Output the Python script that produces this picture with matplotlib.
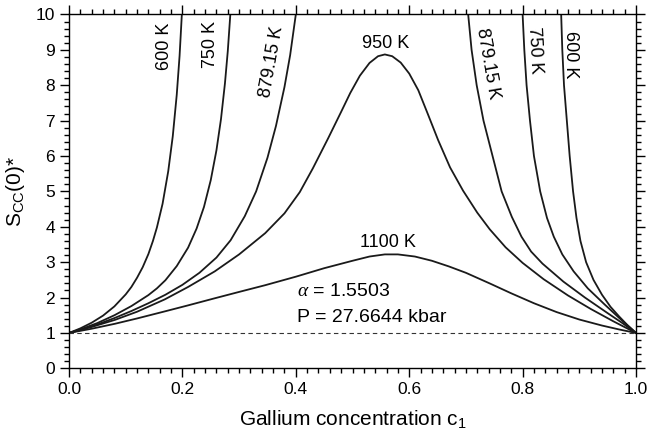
# S_cc(0)* vs gallium concentration
import numpy as np
import matplotlib
matplotlib.use('Agg')
from matplotlib import pyplot as plt
from matplotlib.ticker import MultipleLocator

plt.rcParams['font.family'] = ['Liberation Sans', 'DejaVu Sans']
plt.rcParams['mathtext.fontset'] = 'custom'
plt.rcParams['mathtext.rm'] = 'Liberation Sans'
plt.rcParams['mathtext.it'] = 'Liberation Serif:italic'

# values (c1, Scc(0)*)
c_1100 = [0, 0.04, 0.081, 0.12, 0.169, 0.21, 0.257, 0.30, 0.346, 0.40, 0.45, 0.50, 0.53,
          0.557, 0.58, 0.61, 0.64, 0.67, 0.70, 0.742, 0.78, 0.82, 0.86, 0.90, 0.94, 0.97, 1.0]
s_1100 = [1.0, 1.12, 1.26, 1.41, 1.61, 1.78, 1.98, 2.16, 2.35, 2.59, 2.83, 3.04, 3.16,
          3.22, 3.22, 3.16, 3.04, 2.88, 2.70, 2.40, 2.12, 1.84, 1.59, 1.38, 1.21, 1.10, 1.0]

c_950 = [0, 0.04, 0.081, 0.12, 0.169, 0.21, 0.257, 0.30, 0.346, 0.38, 0.407, 0.43, 0.457,
         0.48, 0.496, 0.513, 0.53, 0.545, 0.557, 0.57, 0.585, 0.600, 0.616, 0.633, 0.651,
         0.672, 0.695, 0.72, 0.742, 0.77, 0.80, 0.837, 0.88, 0.92, 0.96, 1.0]
s_950 = [1.0, 1.17, 1.37, 1.60, 1.95, 2.30, 2.74, 3.22, 3.82, 4.38, 4.98, 5.65, 6.50,
         7.25, 7.78, 8.27, 8.63, 8.82, 8.87, 8.82, 8.64, 8.33, 7.86, 7.18, 6.45,
         5.68, 5.02, 4.40, 3.93, 3.42, 2.98, 2.52, 2.06, 1.68, 1.33, 1.0]

# curves that run off the top: left and right branches
c_879_l = [0, 0.025, 0.05, 0.08, 0.11, 0.14, 0.17, 0.20, 0.23, 0.26, 0.285, 0.31, 0.33,
           0.35, 0.365, 0.38, 0.39, 0.40]
s_879_l = [1.0, 1.11, 1.24, 1.42, 1.62, 1.84, 2.08, 2.36, 2.70, 3.13, 3.62, 4.30, 5.00,
           5.95, 6.85, 7.95, 8.85, 10.0]
c_879_r = [0.704, 0.710, 0.719, 0.731, 0.747, 0.763, 0.781, 0.798, 0.815, 0.835, 0.872,
           0.91, 0.95, 0.975, 1.0]
s_879_r = [10.0, 9.0, 8.0, 7.0, 6.0, 5.0, 4.28, 3.72, 3.30, 2.96, 2.45, 2.0, 1.56,
           1.29, 1.0]

c_750_l = [0, 0.02, 0.05, 0.08, 0.11, 0.14, 0.155, 0.17, 0.19, 0.21, 0.225, 0.238, 0.25,
           0.26, 0.268, 0.275, 0.28, 0.2845]
s_750_l = [1.0, 1.10, 1.28, 1.50, 1.76, 2.07, 2.26, 2.49, 2.89, 3.41, 3.95, 4.56, 5.32,
           6.16, 7.04, 8.05, 8.96, 10.0]
c_750_r = [0.800, 0.803, 0.807, 0.813, 0.820, 0.831, 0.843, 0.855, 0.870, 0.890, 0.915,
           0.945, 0.972, 1.0]
s_750_r = [10.0, 9.0, 8.0, 7.0, 6.0, 5.0, 4.25, 3.72, 3.22, 2.74, 2.26, 1.80, 1.40, 1.0]

c_600_l = [0, 0.02, 0.04, 0.06, 0.08, 0.10, 0.11, 0.12, 0.13, 0.14, 0.148, 0.155, 0.165,
           0.175, 0.183, 0.19, 0.195, 0.199]
s_600_l = [1.0, 1.13, 1.29, 1.49, 1.75, 2.09, 2.30, 2.56, 2.86, 3.23, 3.60, 3.98, 4.65,
           5.57, 6.56, 7.73, 8.83, 10.0]
c_600_r = [0.868, 0.870, 0.873, 0.878, 0.883, 0.889, 0.895, 0.902, 0.912, 0.925, 0.94,
           0.955, 0.97, 0.985, 1.0]
s_600_r = [10.0, 9.0, 8.0, 7.0, 6.0, 5.0, 4.25, 3.60, 3.00, 2.50, 2.08, 1.74, 1.47,
           1.22, 1.0]

fig = plt.figure(figsize=(6.48, 4.38), dpi=100)
ax = fig.add_axes([0.1065, 0.159, 0.875, 0.808])

for xs, ys in [(c_1100, s_1100), (c_950, s_950), (c_879_l, s_879_l), (c_879_r, s_879_r),
               (c_750_l, s_750_l), (c_750_r, s_750_r), (c_600_l, s_600_l), (c_600_r, s_600_r)]:
    ax.plot(xs, ys, color='#1a1a1a', lw=1.3, solid_joinstyle='round')

ax.axhline(1.0, color='#333333', lw=0.8, dashes=(4, 3))

ax.set_xlim(0, 1)
ax.set_ylim(0, 10)
ax.xaxis.set_major_locator(MultipleLocator(0.2))
ax.xaxis.set_minor_locator(MultipleLocator(0.02))
ax.yaxis.set_major_locator(MultipleLocator(1))
ax.yaxis.set_minor_locator(MultipleLocator(0.2))
ax.xaxis.set_major_formatter(plt.FuncFormatter(lambda v, p: '%.1f' % v))
ax.tick_params(which='both', direction='out', top=True, right=True, width=1, labelsize=12.5)
ax.tick_params(which='major', length=6.5)
ax.tick_params(which='minor', length=3.5)
for s in ax.spines.values():
    s.set_linewidth(1)

ax.set_xlabel('Gallium concentration c$_{1}$', fontsize=15, labelpad=8)
ax.set_ylabel('S$_{\\mathrm{CC}}$(0)*', fontsize=15, labelpad=6)

# curve labels
fs = 13
ax.text(0.169, 9.11, '600 K', rotation=90, ha='center', va='center', fontsize=fs)
ax.text(0.249, 9.16, '750 K', rotation=90, ha='center', va='center', fontsize=fs)
ax.text(0.358, 8.65, '879.15 K', rotation=80, ha='center', va='center', fontsize=fs)
ax.text(0.739, 8.62, '879.15 K', rotation=-80, ha='center', va='center', fontsize=fs)
ax.text(0.822, 8.99, '750 K', rotation=-87, ha='center', va='center', fontsize=fs)
ax.text(0.885, 8.85, '600 K', rotation=-90, ha='center', va='center', fontsize=fs)
ax.text(0.559, 9.19, '950 K', ha='center', va='center', fontsize=fs)
ax.text(0.563, 3.57, '1100 K', ha='center', va='center', fontsize=fs)
ax.text(0.402, 2.16, r'$\alpha$ = 1.5503', ha='left', va='center', fontsize=14)
ax.text(0.402, 1.45, 'P = 27.6644 kbar', ha='left', va='center', fontsize=14)

plt.savefig('out.png', dpi=100)
